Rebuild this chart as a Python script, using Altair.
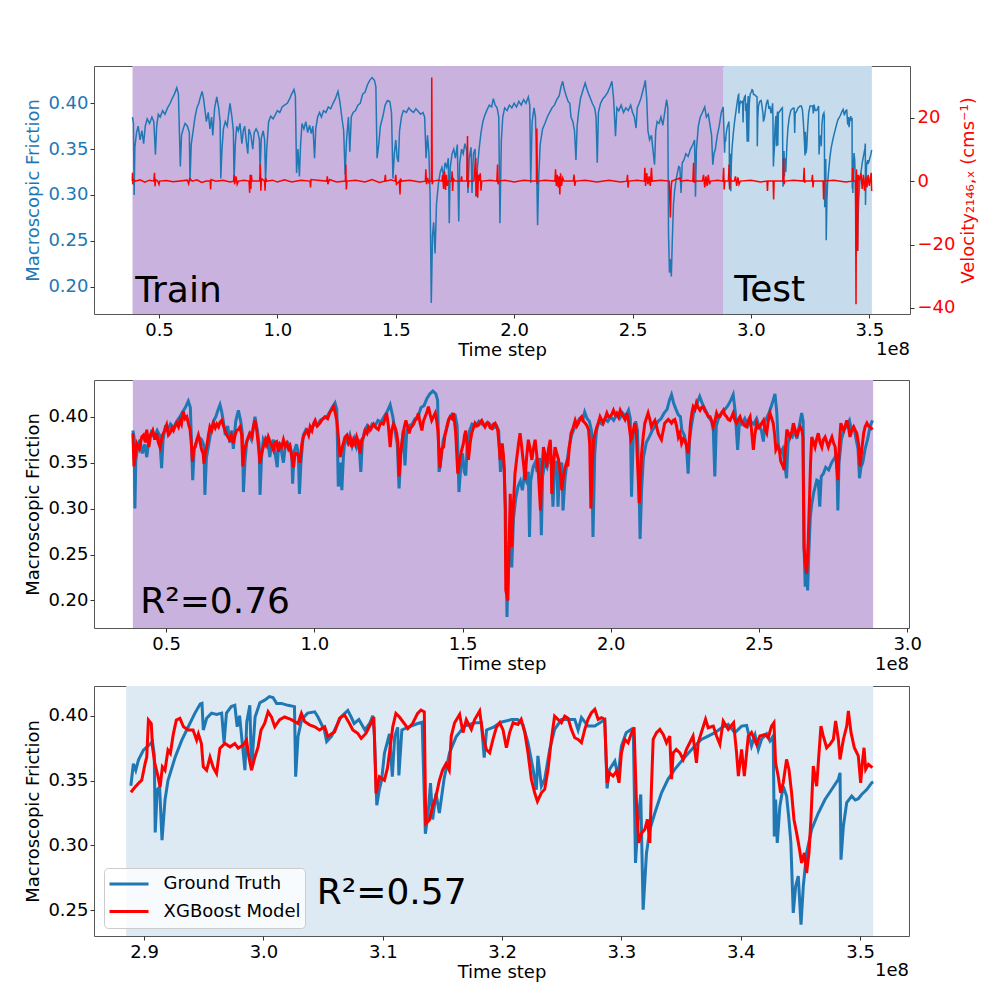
import altair as alt
import pandas as pd

FONT = "DejaVu Sans"
BLUE = "#1f77b4"
RED = "#ff0000"
PURPLE = "#c9b3de"
TEST_BG_TOP = "#c6dcec"
TEST_BG_BOTTOM = "#dde9f3"

# ---------------- data (time step in units of 1e8) ----------------
gt_train = [
    (0.388, 0.385), (0.392, 0.378), (0.395, 0.300), (0.398, 0.352), (0.405, 0.368), (0.412, 0.375),
    (0.420, 0.360), (0.428, 0.370), (0.435, 0.356), (0.442, 0.375), (0.450, 0.383), (0.460, 0.378),
    (0.470, 0.385), (0.478, 0.380), (0.485, 0.344), (0.490, 0.375), (0.497, 0.388), (0.505, 0.385),
    (0.515, 0.392), (0.525, 0.388), (0.536, 0.395), (0.547, 0.400), (0.555, 0.405), (0.565, 0.410),
    (0.575, 0.417), (0.582, 0.410), (0.590, 0.331), (0.595, 0.365), (0.602, 0.372), (0.610, 0.378),
    (0.620, 0.375), (0.628, 0.368), (0.631, 0.315), (0.636, 0.355), (0.643, 0.368), (0.652, 0.385),
    (0.660, 0.395), (0.668, 0.400), (0.675, 0.407), (0.682, 0.413), (0.688, 0.405), (0.693, 0.395),
    (0.700, 0.380), (0.708, 0.390), (0.715, 0.372), (0.722, 0.385), (0.727, 0.365), (0.735, 0.395),
    (0.744, 0.407), (0.752, 0.395), (0.758, 0.380), (0.761, 0.318), (0.766, 0.350), (0.772, 0.372),
    (0.780, 0.380), (0.788, 0.375), (0.795, 0.390), (0.800, 0.400), (0.808, 0.385), (0.814, 0.370),
    (0.817, 0.315), (0.822, 0.355), (0.828, 0.375), (0.835, 0.370), (0.842, 0.378), (0.850, 0.356),
    (0.856, 0.370), (0.862, 0.375), (0.868, 0.360), (0.875, 0.345), (0.880, 0.372), (0.888, 0.365),
    (0.896, 0.350), (0.902, 0.368), (0.910, 0.372), (0.918, 0.368), (0.924, 0.360), (0.927, 0.327),
    (0.932, 0.362), (0.940, 0.370), (0.946, 0.360), (0.950, 0.316), (0.955, 0.350), (0.963, 0.380),
    (0.972, 0.386), (0.982, 0.383), (0.992, 0.388), (1.000, 0.392), (1.010, 0.390), (1.020, 0.396),
    (1.030, 0.398), (1.042, 0.400), (1.052, 0.405), (1.060, 0.410), (1.070, 0.415), (1.076, 0.408),
    (1.081, 0.324), (1.087, 0.350), (1.093, 0.320), (1.098, 0.355), (1.104, 0.378), (1.112, 0.372),
    (1.120, 0.380), (1.128, 0.368), (1.136, 0.376), (1.143, 0.367), (1.150, 0.375), (1.157, 0.340),
    (1.162, 0.372), (1.170, 0.385), (1.178, 0.390), (1.186, 0.385), (1.195, 0.392), (1.205, 0.390),
    (1.215, 0.396), (1.225, 0.394), (1.235, 0.400), (1.245, 0.405), (1.256, 0.413), (1.265, 0.400),
    (1.272, 0.385), (1.280, 0.370), (1.286, 0.322), (1.292, 0.360), (1.300, 0.385), (1.306, 0.347),
    (1.312, 0.385), (1.320, 0.390), (1.330, 0.392), (1.340, 0.398), (1.350, 0.400), (1.360, 0.410),
    (1.370, 0.412), (1.380, 0.420), (1.390, 0.425), (1.400, 0.428), (1.410, 0.425), (1.416, 0.418),
    (1.421, 0.340), (1.428, 0.355), (1.435, 0.375), (1.445, 0.385), (1.455, 0.398), (1.465, 0.403),
    (1.475, 0.402), (1.482, 0.390), (1.488, 0.318), (1.494, 0.345), (1.500, 0.360), (1.506, 0.340),
    (1.511, 0.336), (1.516, 0.370), (1.524, 0.385), (1.532, 0.392), (1.545, 0.390), (1.555, 0.395),
    (1.565, 0.392), (1.575, 0.390), (1.585, 0.394), (1.595, 0.391), (1.605, 0.388), (1.615, 0.390),
    (1.622, 0.385), (1.628, 0.340), (1.634, 0.365), (1.640, 0.345), (1.645, 0.300), (1.650, 0.182),
    (1.655, 0.255), (1.660, 0.270), (1.666, 0.236), (1.672, 0.290), (1.680, 0.312), (1.688, 0.325),
    (1.695, 0.330), (1.702, 0.320), (1.708, 0.335), (1.715, 0.330), (1.722, 0.340), (1.726, 0.269),
    (1.730, 0.330), (1.738, 0.345), (1.745, 0.350), (1.752, 0.340), (1.760, 0.355), (1.766, 0.271),
    (1.770, 0.335), (1.778, 0.350), (1.785, 0.345), (1.792, 0.356), (1.800, 0.348), (1.805, 0.302),
    (1.810, 0.340), (1.818, 0.352), (1.822, 0.302), (1.828, 0.345), (1.835, 0.350), (1.839, 0.298),
    (1.845, 0.330), (1.852, 0.350), (1.860, 0.368), (1.868, 0.380), (1.875, 0.386), (1.884, 0.392),
    (1.895, 0.398), (1.905, 0.396), (1.912, 0.405), (1.920, 0.398), (1.928, 0.395), (1.935, 0.385),
    (1.940, 0.269), (1.946, 0.360), (1.952, 0.385), (1.960, 0.395), (1.970, 0.392), (1.980, 0.398),
    (1.990, 0.395), (2.000, 0.400), (2.010, 0.396), (2.020, 0.402), (2.030, 0.398), (2.040, 0.404),
    (2.050, 0.400), (2.060, 0.407), (2.066, 0.398), (2.070, 0.313), (2.076, 0.380), (2.084, 0.395),
    (2.090, 0.385), (2.095, 0.330), (2.099, 0.267), (2.104, 0.320), (2.110, 0.355), (2.120, 0.372),
    (2.130, 0.378), (2.140, 0.385), (2.150, 0.390), (2.160, 0.395), (2.170, 0.398), (2.180, 0.404),
    (2.190, 0.408), (2.198, 0.418), (2.205, 0.424), (2.212, 0.415), (2.220, 0.408), (2.228, 0.402),
    (2.235, 0.400), (2.240, 0.385), (2.248, 0.380), (2.255, 0.370), (2.261, 0.338), (2.266, 0.375),
    (2.272, 0.390), (2.280, 0.405), (2.288, 0.412), (2.295, 0.418), (2.300, 0.422), (2.308, 0.415),
    (2.315, 0.410), (2.323, 0.405), (2.330, 0.400), (2.340, 0.395), (2.346, 0.385), (2.351, 0.335),
    (2.356, 0.390), (2.365, 0.400), (2.375, 0.405), (2.385, 0.408), (2.395, 0.412), (2.405, 0.418),
    (2.413, 0.424), (2.420, 0.405), (2.428, 0.364), (2.434, 0.395), (2.442, 0.392), (2.452, 0.398),
    (2.462, 0.390), (2.472, 0.395), (2.482, 0.392), (2.492, 0.398), (2.500, 0.390), (2.508, 0.385),
    (2.515, 0.373), (2.520, 0.395), (2.528, 0.400), (2.535, 0.405), (2.542, 0.412), (2.548, 0.418),
    (2.554, 0.425), (2.560, 0.405), (2.565, 0.370), (2.572, 0.360), (2.580, 0.365), (2.586, 0.350),
    (2.593, 0.333), (2.598, 0.370), (2.604, 0.380), (2.612, 0.378), (2.620, 0.385), (2.628, 0.376),
    (2.636, 0.390), (2.644, 0.404), (2.649, 0.395), (2.652, 0.258), (2.656, 0.215), (2.660, 0.230),
    (2.664, 0.211), (2.668, 0.250), (2.673, 0.290), (2.678, 0.305), (2.685, 0.318), (2.695, 0.331),
    (2.700, 0.330), (2.705, 0.302), (2.710, 0.335), (2.717, 0.338), (2.725, 0.345), (2.735, 0.342),
    (2.745, 0.350), (2.755, 0.355), (2.762, 0.360), (2.766, 0.298), (2.770, 0.350), (2.778, 0.375),
    (2.786, 0.385), (2.795, 0.390), (2.805, 0.396), (2.812, 0.385), (2.820, 0.388), (2.828, 0.375),
    (2.834, 0.365), (2.839, 0.333), (2.844, 0.345), (2.850, 0.350), (2.858, 0.365), (2.866, 0.375),
    (2.875, 0.390), (2.883, 0.396),
]

gt_test = [
    (2.8889, 0.346), (2.8910, 0.363), (2.8930, 0.358), (2.8953, 0.366), (2.8994, 0.3735), (2.9036, 0.377),
    (2.9070, 0.380), (2.9085, 0.370), (2.9093, 0.310), (2.9110, 0.343), (2.9130, 0.345), (2.9150, 0.304),
    (2.9175, 0.335), (2.9200, 0.350), (2.9260, 0.368), (2.9315, 0.381), (2.9370, 0.3915), (2.9426, 0.402),
    (2.9470, 0.409), (2.9485, 0.4095), (2.9496, 0.389), (2.9524, 0.398), (2.9565, 0.402), (2.9607, 0.401),
    (2.9650, 0.402), (2.9670, 0.379), (2.9690, 0.402), (2.9730, 0.407), (2.9760, 0.408), (2.9780, 0.3915),
    (2.9800, 0.400), (2.9845, 0.358), (2.9860, 0.395), (2.9886, 0.408), (2.9900, 0.358), (2.9930, 0.399),
    (2.9970, 0.410), (3.0010, 0.412), (3.0050, 0.4147), (3.0080, 0.414), (3.0110, 0.4095), (3.0150, 0.4095),
    (3.0206, 0.408), (3.0260, 0.407), (3.0270, 0.353), (3.0290, 0.384), (3.0320, 0.397), (3.0370, 0.402),
    (3.0430, 0.403), (3.0457, 0.399), (3.0510, 0.389), (3.0530, 0.380), (3.0570, 0.384), (3.0610, 0.3915),
    (3.0650, 0.399), (3.0707, 0.404), (3.0735, 0.399), (3.0760, 0.394), (3.0800, 0.397), (3.0850, 0.389),
    (3.0890, 0.394), (3.0916, 0.400), (3.0930, 0.385), (3.0950, 0.331), (3.0970, 0.3426), (3.0990, 0.350),
    (3.1014, 0.371), (3.1056, 0.386), (3.1080, 0.353), (3.1100, 0.384), (3.1125, 0.391), (3.1135, 0.354),
    (3.1160, 0.389), (3.1210, 0.391), (3.1292, 0.394), (3.1330, 0.395), (3.1357, 0.309), (3.1380, 0.325),
    (3.1400, 0.348), (3.1418, 0.320), (3.1446, 0.340), (3.1474, 0.325), (3.1515, 0.352), (3.1560, 0.3715),
    (3.1616, 0.384), (3.1686, 0.392), (3.1770, 0.3946), (3.1826, 0.3946), (3.1850, 0.3676), (3.1870, 0.389),
    (3.1924, 0.391), (3.1990, 0.395), (3.2078, 0.397), (3.2130, 0.397), (3.2175, 0.393), (3.2217, 0.379),
    (3.2260, 0.3586), (3.2287, 0.343), (3.2300, 0.369), (3.2329, 0.3457), (3.2357, 0.351), (3.2399, 0.374),
    (3.2440, 0.3895), (3.2497, 0.397), (3.2550, 0.397), (3.2609, 0.397), (3.2637, 0.389), (3.2665, 0.3985),
    (3.2720, 0.392), (3.2777, 0.392), (3.2820, 0.3946), (3.2860, 0.397), (3.2880, 0.344), (3.2900, 0.3586),
    (3.2945, 0.365), (3.2972, 0.353), (3.3000, 0.3766), (3.3040, 0.3869), (3.3084, 0.3895), (3.3100, 0.386),
    (3.3118, 0.2865), (3.3140, 0.320), (3.3162, 0.3393), (3.3182, 0.2505), (3.3210, 0.294), (3.3238, 0.3123),
    (3.3280, 0.325), (3.3336, 0.3406), (3.3390, 0.351), (3.3447, 0.3586), (3.3503, 0.365), (3.3560, 0.371),
    (3.3615, 0.3766), (3.3670, 0.3817), (3.3727, 0.3843), (3.3783, 0.3869), (3.3840, 0.3907), (3.3895, 0.3933),
    (3.3950, 0.3869), (3.4007, 0.392), (3.4049, 0.3925), (3.4090, 0.3766), (3.4120, 0.385), (3.4147, 0.374),
    (3.4175, 0.382), (3.4217, 0.386), (3.4245, 0.3805), (3.4272, 0.3843), (3.4281, 0.307), (3.4292, 0.3354),
    (3.4306, 0.302), (3.4328, 0.3303), (3.4356, 0.3457), (3.4384, 0.338), (3.4404, 0.320), (3.4420, 0.302),
    (3.4440, 0.248), (3.4460, 0.2685), (3.4482, 0.2763), (3.4505, 0.239), (3.4524, 0.2685), (3.4552, 0.2943),
    (3.4594, 0.3123), (3.4650, 0.325), (3.4706, 0.3354), (3.4762, 0.3431), (3.4818, 0.351), (3.4832, 0.356),
    (3.4840, 0.289), (3.4860, 0.3148), (3.4888, 0.333), (3.4930, 0.338), (3.4960, 0.335), (3.4985, 0.336),
    (3.5013, 0.3393), (3.5056, 0.3431), (3.5097, 0.3483), (3.5110, 0.349),
]

pred_train = [
    (0.388, 0.382), (0.392, 0.346), (0.397, 0.360), (0.401, 0.371), (0.410, 0.365), (0.418, 0.378),
    (0.424, 0.380), (0.430, 0.372), (0.435, 0.386), (0.442, 0.367), (0.448, 0.380), (0.455, 0.385),
    (0.462, 0.375), (0.468, 0.382), (0.474, 0.372), (0.480, 0.367), (0.488, 0.380), (0.495, 0.385),
    (0.502, 0.391), (0.508, 0.380), (0.513, 0.382), (0.520, 0.388), (0.525, 0.385), (0.531, 0.390),
    (0.536, 0.393), (0.542, 0.389), (0.547, 0.396), (0.552, 0.392), (0.558, 0.406), (0.564, 0.398),
    (0.570, 0.400), (0.576, 0.392), (0.581, 0.386), (0.585, 0.372), (0.589, 0.351), (0.594, 0.365),
    (0.598, 0.367), (0.604, 0.375), (0.609, 0.380), (0.615, 0.372), (0.620, 0.364), (0.625, 0.360),
    (0.628, 0.349), (0.633, 0.362), (0.637, 0.367), (0.643, 0.380), (0.648, 0.389), (0.654, 0.385),
    (0.660, 0.393), (0.666, 0.388), (0.671, 0.392), (0.677, 0.389), (0.682, 0.394), (0.688, 0.396),
    (0.694, 0.390), (0.699, 0.385), (0.705, 0.380), (0.714, 0.375), (0.720, 0.380), (0.727, 0.371),
    (0.733, 0.380), (0.738, 0.385), (0.744, 0.386), (0.750, 0.389), (0.755, 0.380), (0.759, 0.346),
    (0.763, 0.360), (0.767, 0.367), (0.774, 0.375), (0.783, 0.382), (0.790, 0.378), (0.795, 0.390),
    (0.800, 0.396), (0.806, 0.385), (0.812, 0.367), (0.817, 0.349), (0.822, 0.360), (0.828, 0.367),
    (0.835, 0.375), (0.840, 0.370), (0.845, 0.378), (0.852, 0.372), (0.857, 0.368), (0.862, 0.364),
    (0.867, 0.372), (0.873, 0.373), (0.879, 0.362), (0.884, 0.370), (0.890, 0.367), (0.896, 0.375),
    (0.902, 0.368), (0.907, 0.371), (0.913, 0.365), (0.918, 0.368), (0.924, 0.356), (0.930, 0.345),
    (0.935, 0.360), (0.941, 0.360), (0.946, 0.358), (0.952, 0.350), (0.958, 0.370), (0.963, 0.378),
    (0.969, 0.382), (0.975, 0.385), (0.981, 0.380), (0.986, 0.389), (0.992, 0.385), (0.997, 0.392),
    (1.003, 0.396), (1.010, 0.390), (1.019, 0.393), (1.027, 0.397), (1.036, 0.400), (1.045, 0.398),
    (1.053, 0.405), (1.060, 0.408), (1.065, 0.411), (1.070, 0.405), (1.076, 0.396), (1.082, 0.375),
    (1.087, 0.356), (1.093, 0.365), (1.098, 0.371), (1.104, 0.378), (1.110, 0.380), (1.116, 0.372),
    (1.121, 0.376), (1.126, 0.367), (1.132, 0.375), (1.138, 0.370), (1.143, 0.378), (1.149, 0.372),
    (1.155, 0.360), (1.160, 0.375), (1.166, 0.378), (1.172, 0.385), (1.178, 0.382), (1.183, 0.389),
    (1.190, 0.386), (1.200, 0.392), (1.208, 0.388), (1.216, 0.386), (1.222, 0.392), (1.228, 0.393),
    (1.233, 0.392), (1.239, 0.398), (1.244, 0.404), (1.250, 0.390), (1.256, 0.367), (1.261, 0.385),
    (1.267, 0.392), (1.273, 0.388), (1.278, 0.382), (1.282, 0.372), (1.286, 0.335), (1.291, 0.360),
    (1.297, 0.375), (1.303, 0.388), (1.309, 0.396), (1.314, 0.390), (1.320, 0.382), (1.325, 0.388),
    (1.329, 0.389), (1.335, 0.392), (1.340, 0.396), (1.346, 0.398), (1.351, 0.404), (1.357, 0.393),
    (1.363, 0.385), (1.368, 0.395), (1.374, 0.400), (1.380, 0.405), (1.385, 0.411), (1.391, 0.402),
    (1.396, 0.396), (1.402, 0.400), (1.408, 0.404), (1.412, 0.398), (1.417, 0.385), (1.421, 0.360),
    (1.424, 0.344), (1.430, 0.365), (1.436, 0.367), (1.441, 0.380), (1.447, 0.389), (1.452, 0.396),
    (1.458, 0.400), (1.464, 0.398), (1.469, 0.404), (1.473, 0.395), (1.477, 0.382), (1.484, 0.338),
    (1.490, 0.352), (1.496, 0.362), (1.503, 0.371), (1.507, 0.380), (1.511, 0.385), (1.516, 0.368),
    (1.520, 0.353), (1.526, 0.372), (1.531, 0.382), (1.537, 0.388), (1.542, 0.393), (1.548, 0.390),
    (1.554, 0.391), (1.560, 0.394), (1.565, 0.396), (1.571, 0.392), (1.576, 0.389), (1.582, 0.393),
    (1.587, 0.393), (1.593, 0.388), (1.599, 0.387), (1.605, 0.392), (1.610, 0.393), (1.615, 0.389),
    (1.619, 0.385), (1.623, 0.370), (1.627, 0.353), (1.631, 0.365), (1.634, 0.371), (1.638, 0.358),
    (1.641, 0.342), (1.644, 0.300), (1.646, 0.211), (1.650, 0.205), (1.653, 0.200), (1.657, 0.260),
    (1.661, 0.316), (1.666, 0.258), (1.671, 0.300), (1.677, 0.338), (1.683, 0.355), (1.689, 0.371),
    (1.694, 0.382), (1.698, 0.372), (1.702, 0.360), (1.707, 0.345), (1.711, 0.331), (1.716, 0.355),
    (1.722, 0.375), (1.728, 0.365), (1.734, 0.353), (1.739, 0.365), (1.745, 0.375), (1.750, 0.360),
    (1.756, 0.338), (1.760, 0.315), (1.763, 0.298), (1.768, 0.340), (1.773, 0.367), (1.778, 0.360),
    (1.784, 0.345), (1.790, 0.365), (1.796, 0.375), (1.799, 0.355), (1.801, 0.316), (1.806, 0.345),
    (1.812, 0.367), (1.818, 0.360), (1.824, 0.353), (1.829, 0.340), (1.835, 0.320), (1.840, 0.335),
    (1.846, 0.345), (1.851, 0.350), (1.855, 0.346), (1.860, 0.365), (1.866, 0.382), (1.873, 0.388),
    (1.880, 0.396), (1.886, 0.390), (1.891, 0.393), (1.897, 0.398), (1.902, 0.400), (1.908, 0.395),
    (1.914, 0.393), (1.920, 0.390), (1.925, 0.386), (1.929, 0.370), (1.933, 0.300), (1.937, 0.340),
    (1.942, 0.375), (1.948, 0.383), (1.953, 0.389), (1.959, 0.394), (1.964, 0.400), (1.970, 0.396),
    (1.975, 0.393), (1.981, 0.398), (1.987, 0.404), (1.992, 0.400), (1.998, 0.400), (2.004, 0.403),
    (2.009, 0.407), (2.015, 0.402), (2.020, 0.404), (2.026, 0.400), (2.032, 0.407), (2.037, 0.403),
    (2.043, 0.400), (2.048, 0.397), (2.054, 0.404), (2.060, 0.395), (2.064, 0.385), (2.068, 0.375),
    (2.072, 0.378), (2.076, 0.385), (2.081, 0.393), (2.086, 0.385), (2.089, 0.360), (2.093, 0.330),
    (2.096, 0.306), (2.100, 0.330), (2.104, 0.360), (2.110, 0.380), (2.115, 0.393), (2.120, 0.398),
    (2.126, 0.404), (2.132, 0.397), (2.137, 0.389), (2.143, 0.393), (2.149, 0.396), (2.154, 0.390),
    (2.160, 0.382), (2.166, 0.378), (2.171, 0.375), (2.177, 0.385), (2.182, 0.393), (2.188, 0.395),
    (2.194, 0.397), (2.200, 0.395), (2.205, 0.393), (2.211, 0.396), (2.216, 0.397), (2.222, 0.390),
    (2.228, 0.378), (2.233, 0.382), (2.239, 0.371), (2.245, 0.376), (2.250, 0.374), (2.256, 0.368),
    (2.261, 0.360), (2.265, 0.375), (2.269, 0.393), (2.274, 0.405), (2.278, 0.411), (2.284, 0.408),
    (2.289, 0.415), (2.295, 0.410), (2.301, 0.407), (2.306, 0.410), (2.312, 0.411), (2.318, 0.406),
    (2.323, 0.404), (2.329, 0.400), (2.335, 0.400), (2.340, 0.396), (2.346, 0.389), (2.351, 0.395),
    (2.357, 0.404), (2.362, 0.400), (2.368, 0.400), (2.374, 0.404), (2.380, 0.407), (2.385, 0.402),
    (2.391, 0.400), (2.396, 0.397), (2.402, 0.396), (2.408, 0.400), (2.413, 0.404), (2.419, 0.396),
    (2.424, 0.393), (2.430, 0.397), (2.436, 0.400), (2.441, 0.395), (2.447, 0.393), (2.452, 0.390),
    (2.458, 0.389), (2.464, 0.396), (2.470, 0.400), (2.475, 0.385), (2.481, 0.364), (2.486, 0.380),
    (2.492, 0.393), (2.498, 0.388), (2.503, 0.389), (2.509, 0.393), (2.515, 0.396), (2.520, 0.386),
    (2.526, 0.382), (2.531, 0.395), (2.537, 0.404), (2.543, 0.398), (2.548, 0.393), (2.553, 0.380),
    (2.557, 0.364), (2.563, 0.368), (2.569, 0.364), (2.573, 0.352), (2.577, 0.349), (2.581, 0.346),
    (2.585, 0.342), (2.589, 0.365), (2.594, 0.386), (2.599, 0.382), (2.605, 0.378), (2.611, 0.384),
    (2.616, 0.393), (2.622, 0.386), (2.627, 0.378), (2.633, 0.385), (2.639, 0.389), (2.645, 0.385),
    (2.648, 0.378), (2.652, 0.258), (2.656, 0.240), (2.661, 0.229), (2.666, 0.265), (2.670, 0.306),
    (2.674, 0.350), (2.678, 0.378), (2.684, 0.372), (2.689, 0.367), (2.694, 0.375), (2.700, 0.382),
    (2.706, 0.372), (2.712, 0.367), (2.717, 0.375), (2.723, 0.378), (2.729, 0.372), (2.734, 0.367),
    (2.740, 0.373), (2.746, 0.378), (2.751, 0.372), (2.757, 0.367), (2.761, 0.350), (2.766, 0.331),
    (2.771, 0.370), (2.776, 0.393), (2.781, 0.388), (2.786, 0.385), (2.791, 0.390), (2.796, 0.396),
    (2.802, 0.388), (2.807, 0.378), (2.813, 0.385), (2.819, 0.389), (2.825, 0.385), (2.830, 0.382),
    (2.836, 0.370), (2.841, 0.346), (2.847, 0.365), (2.853, 0.382), (2.858, 0.389), (2.864, 0.393),
    (2.869, 0.390), (2.875, 0.389), (2.880, 0.387), (2.883, 0.386),
]

pred_test = [
    (2.8889, 0.341), (2.8925, 0.345), (2.8953, 0.348), (2.8980, 0.3503), (2.9008, 0.363), (2.9022, 0.368),
    (2.9036, 0.3967), (2.9060, 0.394), (2.9070, 0.376), (2.9090, 0.363), (2.9112, 0.355), (2.9134, 0.345),
    (2.9153, 0.3606), (2.9175, 0.358), (2.9200, 0.3735), (2.9220, 0.371), (2.9245, 0.386), (2.9270, 0.3967),
    (2.9300, 0.398), (2.9330, 0.3915), (2.9370, 0.389), (2.9410, 0.389), (2.9440, 0.3812), (2.9455, 0.386),
    (2.9480, 0.3786), (2.9496, 0.3606), (2.9524, 0.358), (2.9552, 0.368), (2.9580, 0.360), (2.9607, 0.3555),
    (2.9635, 0.3748), (2.9677, 0.3786), (2.9720, 0.376), (2.9760, 0.3786), (2.9788, 0.375), (2.9830, 0.3774),
    (2.9858, 0.3812), (2.9878, 0.368), (2.9900, 0.358), (2.9928, 0.368), (2.9955, 0.376), (2.9980, 0.389),
    (3.0010, 0.394), (3.0039, 0.403), (3.0067, 0.399), (3.0095, 0.3915), (3.0136, 0.397), (3.0178, 0.399),
    (3.0234, 0.397), (3.0290, 0.394), (3.0318, 0.4018), (3.0345, 0.3955), (3.0387, 0.393), (3.0430, 0.3915),
    (3.0470, 0.389), (3.0513, 0.3915), (3.0540, 0.3838), (3.0568, 0.386), (3.0596, 0.3875), (3.0638, 0.398),
    (3.0680, 0.4005), (3.0721, 0.394), (3.0749, 0.389), (3.0790, 0.3865), (3.0819, 0.3825), (3.0860, 0.3865),
    (3.0900, 0.394), (3.0925, 0.399), (3.0944, 0.340), (3.0972, 0.353), (3.1014, 0.3503), (3.1040, 0.360),
    (3.1084, 0.3915), (3.1110, 0.4018), (3.1140, 0.399), (3.1180, 0.394), (3.1210, 0.390), (3.1250, 0.394),
    (3.1292, 0.4018), (3.1320, 0.4044), (3.1348, 0.403), (3.1360, 0.317), (3.1390, 0.3195), (3.1418, 0.330),
    (3.1446, 0.338), (3.1474, 0.350), (3.1501, 0.358), (3.1530, 0.363), (3.1557, 0.358), (3.1574, 0.3843),
    (3.1602, 0.3946), (3.1644, 0.401), (3.1672, 0.387), (3.1700, 0.397), (3.1742, 0.3895), (3.1770, 0.397),
    (3.1812, 0.4036), (3.1840, 0.3843), (3.1868, 0.374), (3.1896, 0.3714), (3.1924, 0.382), (3.1952, 0.391),
    (3.1980, 0.3946), (3.2008, 0.389), (3.2036, 0.3753), (3.2063, 0.387), (3.2092, 0.3946), (3.2133, 0.3933),
    (3.2160, 0.3972), (3.2190, 0.387), (3.2217, 0.3714), (3.2245, 0.351), (3.2273, 0.3406), (3.2296, 0.334),
    (3.2329, 0.3406), (3.2357, 0.3432), (3.2385, 0.3586), (3.2413, 0.3817), (3.2440, 0.3997), (3.2470, 0.397),
    (3.2497, 0.3946), (3.2525, 0.3997), (3.2553, 0.398), (3.2580, 0.3895), (3.2609, 0.383), (3.2637, 0.3817),
    (3.2665, 0.3792), (3.2693, 0.3895), (3.2720, 0.3972), (3.2749, 0.4023), (3.2777, 0.405), (3.2805, 0.3972),
    (3.2833, 0.3985), (3.2860, 0.3972), (3.2880, 0.3483), (3.2900, 0.356), (3.2930, 0.3535), (3.2959, 0.3573),
    (3.2980, 0.3483), (3.3000, 0.3714), (3.3028, 0.3817), (3.3056, 0.3792), (3.3080, 0.3855), (3.3106, 0.391),
    (3.3126, 0.3329), (3.3145, 0.302), (3.3170, 0.3097), (3.3196, 0.3123), (3.3218, 0.320), (3.3238, 0.302),
    (3.3252, 0.3457), (3.3266, 0.3817), (3.3294, 0.387), (3.3322, 0.3895), (3.3350, 0.3856), (3.3378, 0.3792),
    (3.3405, 0.3843), (3.3420, 0.351), (3.3434, 0.3714), (3.3460, 0.374), (3.3490, 0.3714), (3.3517, 0.3663),
    (3.3545, 0.374), (3.3573, 0.3792), (3.3600, 0.3843), (3.3629, 0.3637), (3.3643, 0.3792), (3.3670, 0.387),
    (3.3705, 0.3972), (3.3727, 0.3907), (3.3770, 0.392), (3.3797, 0.3843), (3.3825, 0.3779), (3.3853, 0.3959),
    (3.3895, 0.3895), (3.3940, 0.3946), (3.3965, 0.3714), (3.3980, 0.3534), (3.4007, 0.374), (3.4030, 0.3534),
    (3.4063, 0.3843), (3.4090, 0.387), (3.4133, 0.3779), (3.4160, 0.3843), (3.4203, 0.3856), (3.4230, 0.383),
    (3.4258, 0.392), (3.4278, 0.3946), (3.4292, 0.3637), (3.4314, 0.3534), (3.4334, 0.3406), (3.4356, 0.3483),
    (3.4384, 0.3663), (3.4404, 0.3586), (3.4426, 0.3406), (3.4446, 0.320), (3.4468, 0.3097), (3.4488, 0.2994),
    (3.4510, 0.2865), (3.4533, 0.2943), (3.4552, 0.2788), (3.4572, 0.2943), (3.4588, 0.320), (3.4608, 0.3612),
    (3.4622, 0.3534), (3.4636, 0.3457), (3.4656, 0.3714), (3.4672, 0.392), (3.4692, 0.3843), (3.4720, 0.3753),
    (3.4748, 0.3779), (3.4776, 0.3817), (3.4795, 0.3959), (3.4818, 0.3817), (3.4832, 0.3663), (3.4860, 0.3817),
    (3.4888, 0.392), (3.4902, 0.4036), (3.4924, 0.387), (3.4952, 0.3753), (3.4985, 0.369), (3.5005, 0.3483),
    (3.5019, 0.3637), (3.5033, 0.3753), (3.5047, 0.3586), (3.5070, 0.3625), (3.5103, 0.3599),
]

velocity = [
    (0.387, 0), (0.388, 2.6), (0.389, -1.0), (0.392, 0.5), (0.400, 0), (0.420, 0.4), (0.440, -0.3),
    (0.460, 0.3), (0.478, 0), (0.481, 2.6), (0.483, -1.6), (0.486, 0.5), (0.495, 0), (0.500, -1.0),
    (0.503, 0), (0.530, 0.2), (0.560, -0.2), (0.620, 0.3), (0.625, -0.8), (0.630, 0.8), (0.640, 0),
    (0.660, 0.4), (0.680, -0.4), (0.700, 0), (0.716, 0), (0.718, -2.6), (0.720, 0.5), (0.740, 0),
    (0.770, 0.3), (0.800, -0.3), (0.815, 0), (0.817, 2.0), (0.819, -1.0), (0.825, 1.5), (0.830, -1.0),
    (0.835, 0), (0.860, 0.3), (0.880, 0), (0.883, -3.7), (0.885, 2.0), (0.888, -2.5), (0.890, 2.0),
    (0.893, 0), (0.925, 0), (0.928, 5.2), (0.930, -3.0), (0.933, 0.8), (0.946, 0), (0.948, -3.0),
    (0.950, 1.0), (0.955, 0), (0.980, 0.3), (1.000, -0.3), (1.030, 0.4), (1.060, -0.3), (1.100, 0.3),
    (1.138, 0), (1.140, -2.0), (1.142, 0.5), (1.170, 0.3), (1.208, 0), (1.211, 1.5), (1.213, -1.0),
    (1.220, 0.5), (1.250, -0.3), (1.287, 0), (1.289, 5.2), (1.291, -2.6), (1.294, 0), (1.330, 0.3),
    (1.370, -0.3), (1.400, 0.5), (1.430, -0.4), (1.453, 0), (1.456, 2.0), (1.458, 0), (1.480, 0.4),
    (1.497, 0), (1.500, 2.0), (1.503, -1.0), (1.515, 0), (1.518, -4.2), (1.520, 0.8), (1.525, 0),
    (1.560, 0.3), (1.600, -0.3), (1.625, 0), (1.627, 3.7), (1.630, -1.0), (1.634, 1.0), (1.640, -0.5),
    (1.645, 0), (1.651, 0), (1.652, 32.7), (1.654, -1.0), (1.657, 0), (1.680, 0.3), (1.695, 0),
    (1.698, 2.0), (1.702, -2.5), (1.706, 3.0), (1.710, -2.8), (1.714, 2.0), (1.718, -1.5), (1.722, 0),
    (1.735, 0), (1.738, 3.1), (1.740, -3.1), (1.743, 0.8), (1.750, 0), (1.775, 0), (1.778, 1.5),
    (1.780, 0), (1.800, 0), (1.803, 14.2), (1.805, -2.0), (1.808, 0), (1.830, 0), (1.834, 4.0),
    (1.838, 7.3), (1.840, -4.7), (1.843, 3.0), (1.846, -5.2), (1.849, 2.0), (1.852, 0), (1.857, 2.5),
    (1.860, -3.0), (1.863, 0), (1.900, 0.3), (1.927, 0), (1.930, 5.2), (1.932, -1.0), (1.935, 0),
    (1.960, 0.3), (2.000, -0.3), (2.040, 0.3), (2.080, 0), (2.094, 0), (2.096, 16.6), (2.098, -1.0),
    (2.100, 0), (2.130, 0.3), (2.172, 0), (2.175, 3.7), (2.178, -1.5), (2.182, 2.0), (2.186, -2.0),
    (2.190, 1.5), (2.193, -4.2), (2.196, 2.5), (2.200, -1.5), (2.205, 1.0), (2.210, 0), (2.250, 0),
    (2.253, 2.1), (2.256, -1.5), (2.260, 0), (2.300, 0.3), (2.350, -0.3), (2.400, 0.3), (2.450, -0.3),
    (2.476, 0), (2.479, 2.0), (2.481, -2.1), (2.484, 0), (2.520, 0.3), (2.550, 0), (2.552, 4.2),
    (2.555, -1.5), (2.560, 2.5), (2.565, -1.0), (2.570, 1.5), (2.575, -1.5), (2.580, 4.2), (2.583, 0),
    (2.620, 0.3), (2.655, 0), (2.660, -11.5), (2.663, -2.0), (2.666, 0), (2.700, 1.0), (2.703, 0),
    (2.730, 0.3), (2.755, 0), (2.758, 5.8), (2.760, -0.5), (2.763, 0), (2.795, 0), (2.800, 2.0),
    (2.805, -2.0), (2.810, 1.5), (2.815, -1.5), (2.820, 2.0), (2.825, -1.0), (2.830, 0), (2.860, 0.3),
    (2.882, 0), (2.885, 4.2), (2.887, -2.6), (2.890, 0), (2.905, 0), (2.908, 5.2), (2.910, -2.6),
    (2.913, 1.0), (2.916, 0), (2.930, 0), (2.935, 1.5), (2.940, -1.5), (2.945, 1.2), (2.950, -1.0),
    (2.955, 0), (3.000, 0.3), (3.040, -0.3), (3.068, 0), (3.070, -3.1), (3.072, 0), (3.094, 0),
    (3.096, -5.8), (3.098, 0), (3.135, 0), (3.138, 7.3), (3.140, -1.0), (3.143, 0), (3.180, 0.3),
    (3.222, 0), (3.225, 4.2), (3.227, -0.5), (3.230, 0), (3.257, 0), (3.260, 2.0), (3.262, -2.0),
    (3.265, 0), (3.305, 0), (3.307, -5.8), (3.309, 0), (3.350, 0.3), (3.400, -0.3), (3.428, 0),
    (3.430, 4.2), (3.433, 0), (3.442, 0), (3.444, -38.8), (3.446, 3.7), (3.449, -5.0), (3.451, -22.0),
    (3.453, 2.0), (3.456, 0), (3.465, 2.5), (3.470, -2.5), (3.475, 2.0), (3.480, -3.0), (3.485, 1.5),
    (3.490, -2.0), (3.495, 2.0), (3.500, -1.5), (3.505, 1.0), (3.508, 2.6), (3.510, -3.1),
]

phases = ["Train", "Test"]
phase_start = [0.388, 2.885]
phase_end = [2.885, 3.511]
phase_text_t = [0.400, 2.930]
phase_text_v = [0.183, 0.184]

r2_labels = ["R²=0.76", "R²=0.57"]
r2_t = [0.413, 3.0447]
r2_v = [0.1866, 0.2547]

series_names = ["Ground Truth", "XGBoost Model"]

# ---------------- frames ----------------
def frame(pairs, name):
    return pd.DataFrame({"t": [p[0] for p in pairs], "v": [p[1] for p in pairs], "series": name})

gt_all_df = frame(gt_train + gt_test, series_names[0])
vel_df = pd.DataFrame({"t": [p[0] for p in velocity], "vel": [p[1] for p in velocity]})
train_lines = pd.concat([frame(gt_train, series_names[0]), frame(pred_train, series_names[1])])
test_lines = pd.concat([frame(gt_test, series_names[0]), frame(pred_test, series_names[1])])
span_df = pd.DataFrame({"phase": phases, "start": phase_start, "end": phase_end})
phase_text_df = pd.DataFrame({"label": phases, "t": phase_text_t, "v": phase_text_v})
r2_df = pd.DataFrame({"label": r2_labels, "t": r2_t, "v": r2_v})
e8_df = pd.DataFrame({"s": ["1e8"]})

# ---------------- common styling ----------------
AX = dict(labelFont=FONT, titleFont=FONT, labelFontSize=18, titleFontSize=18,
          titleFontWeight="normal", tickSize=4, tickColor="#333333", tickWidth=1,
          domain=False, grid=False)


def x_axis(vals):
    return alt.Axis(values=vals, format=".1f", title="Time step", labelPadding=3,
                    titlePadding=2, labelColor="black", titleColor="black",
                    labelFlush=False, labelOverlap=False, **AX)


def y_axis(vals, color, extent):
    return alt.Axis(values=vals, format=".2f", title="Macroscopic Friction", labelPadding=2,
                    titlePadding=6, labelColor=color, titleColor=color, minExtent=extent,
                    maxExtent=extent, labelOverlap=False, **AX)


color_scale = alt.Scale(domain=series_names, range=[BLUE, RED])

# ---------------- panel 1 ----------------
W1, H1 = 816, 248
xsc1 = alt.Scale(domain=[0.2254, 3.672], nice=False, zero=False)
xv1 = [0.5, 1.0, 1.5, 2.0, 2.5, 3.0, 3.5]
ys1 = alt.Scale(domain=[0.170, 0.4407], nice=False, zero=False)

bg1_train = alt.Chart(span_df).transform_filter(alt.datum.phase == "Train").mark_rect(
    fill=PURPLE).encode(x=alt.X("start:Q", scale=xsc1, axis=x_axis(xv1)),
                        x2="end:Q", y=alt.value(0), y2=alt.value(H1))
bg1_test = alt.Chart(span_df).transform_filter(alt.datum.phase == "Test").mark_rect(
    fill=TEST_BG_TOP).encode(x=alt.X("start:Q", scale=xsc1, axis=x_axis(xv1)),
                             x2="end:Q", y=alt.value(0), y2=alt.value(H1))

fric1 = alt.Chart(gt_all_df).mark_line(color=BLUE, strokeWidth=1.5).encode(
    x=alt.X("t:Q", scale=xsc1, axis=x_axis(xv1)),
    y=alt.Y("v:Q", scale=ys1, axis=y_axis([0.20, 0.25, 0.30, 0.35, 0.40], BLUE, 46)))

vel1 = alt.Chart(vel_df).mark_line(color=RED, strokeWidth=1.5).encode(
    x=alt.X("t:Q", scale=xsc1, axis=x_axis(xv1)),
    y=alt.Y("vel:Q", scale=alt.Scale(domain=[-41.9, 36.3], nice=False, zero=False),
            axis=alt.Axis(orient="right", values=[-40, -20, 0, 20], format="d",
                          title="Velocity₂₁₄₆,ₓ (cms⁻¹)", labelColor=RED, titleColor=RED,
                          labelPadding=3, titlePadding=5, titleAngle=270, titleBaseline="top",
                          labelOverlap=False, **AX)))

txt1 = alt.Chart(phase_text_df).mark_text(fontSize=36, font=FONT, align="left",
                                          baseline="alphabetic", color="black").encode(
    x=alt.X("t:Q", scale=xsc1, axis=x_axis(xv1)), y=alt.Y("v:Q", scale=ys1, axis=None),
    text="label:N")

e8_1 = alt.Chart(e8_df).mark_text(fontSize=18, font=FONT, align="right", baseline="top",
                                  color="black").encode(text="s:N", x=alt.value(W1), y=alt.value(H1 + 27))

panel1 = alt.layer(bg1_train, bg1_test, fric1, vel1, txt1, e8_1).resolve_scale(
    y="independent").properties(width=W1, height=H1)

# ---------------- panel 2 ----------------
W2, H2 = 815, 248
xsc2 = alt.Scale(domain=[0.257, 3.006], nice=False, zero=False)
xv2 = [0.5, 1.0, 1.5, 2.0, 2.5, 3.0]
ys2 = alt.Scale(domain=[0.170, 0.440], nice=False, zero=False)
ya2 = y_axis([0.20, 0.25, 0.30, 0.35, 0.40], "black", 46)

bg2 = alt.Chart(span_df).transform_filter(alt.datum.phase == "Train").mark_rect(
    fill=PURPLE).encode(x=alt.X("start:Q", scale=xsc2, axis=x_axis(xv2)), x2="end:Q",
                        y=alt.value(0), y2=alt.value(H2))
lines2 = alt.Chart(train_lines).mark_line(strokeWidth=3).encode(
    x=alt.X("t:Q", scale=xsc2, axis=x_axis(xv2)),
    y=alt.Y("v:Q", scale=ys2, axis=ya2),
    color=alt.Color("series:N", scale=color_scale, legend=None))
txt2 = alt.Chart(r2_df).transform_filter(alt.datum.label == r2_labels[0]).mark_text(
    fontSize=36, font=FONT, align="left", baseline="alphabetic", color="black").encode(
    x=alt.X("t:Q", scale=xsc2, axis=x_axis(xv2)), y=alt.Y("v:Q", scale=ys2, axis=ya2), text="label:N")
e8_2 = alt.Chart(e8_df).mark_text(fontSize=18, font=FONT, align="right", baseline="top",
                                  color="black").encode(text="s:N", x=alt.value(W2), y=alt.value(H2 + 28))
panel2 = alt.layer(bg2, lines2, txt2, e8_2).properties(width=W2, height=H2)

# ---------------- panel 3 ----------------
W3, H3 = 815, 250
xsc3 = alt.Scale(domain=[2.858, 3.541], nice=False, zero=False)
xv3 = [2.9, 3.0, 3.1, 3.2, 3.3, 3.4, 3.5]
ys3 = alt.Scale(domain=[0.2302, 0.4229], nice=False, zero=False)
ya3 = y_axis([0.25, 0.30, 0.35, 0.40], "black", 46)

bg3 = alt.Chart(span_df).transform_filter(alt.datum.phase == "Test").mark_rect(
    fill=TEST_BG_BOTTOM).encode(x=alt.X("start:Q", scale=xsc3, axis=x_axis(xv3)), x2="end:Q",
                                y=alt.value(0), y2=alt.value(H3))
lines3 = alt.Chart(test_lines).mark_line(strokeWidth=3).encode(
    x=alt.X("t:Q", scale=xsc3, axis=x_axis(xv3)),
    y=alt.Y("v:Q", scale=ys3, axis=ya3),
    color=alt.Color("series:N", scale=color_scale,
                    legend=alt.Legend(title=None, orient="none", legendX=10, legendY=182,
                                      symbolType="stroke", symbolSize=1521, symbolStrokeWidth=3,
                                      clipHeight=24, rowPadding=3.6, padding=4,
                                      labelFont=FONT, labelFontSize=18, labelColor="black",
                                      labelOffset=13.6, symbolOffset=0, labelLimit=400,
                                      fillColor="rgba(255,255,255,0.8)", strokeColor="#cccccc",
                                      cornerRadius=4)))
txt3 = alt.Chart(r2_df).transform_filter(alt.datum.label == r2_labels[1]).mark_text(
    fontSize=36, font=FONT, align="left", baseline="alphabetic", color="black").encode(
    x=alt.X("t:Q", scale=xsc3, axis=x_axis(xv3)), y=alt.Y("v:Q", scale=ys3, axis=ya3), text="label:N")
e8_3 = alt.Chart(e8_df).mark_text(fontSize=18, font=FONT, align="right", baseline="top",
                                  color="black").encode(text="s:N", x=alt.value(W3), y=alt.value(H3 + 26))
panel3 = alt.layer(bg3, lines3, txt3, e8_3).properties(width=W3, height=H3)

# ---------------- assemble ----------------
lower = alt.vconcat(panel2, panel3, spacing=10).resolve_scale(
    color="independent").resolve_legend(color="independent")

chart = alt.vconcat(panel1, lower, spacing=19).resolve_scale(
    color="independent").resolve_legend(color="independent").properties(
    padding={"left": 15, "top": 57, "right": 2, "bottom": 2}, background="white"
).configure_view(stroke="#555555", strokeWidth=1)

chart.save("out.html", embed_options={"renderer": "svg", "actions": False})
